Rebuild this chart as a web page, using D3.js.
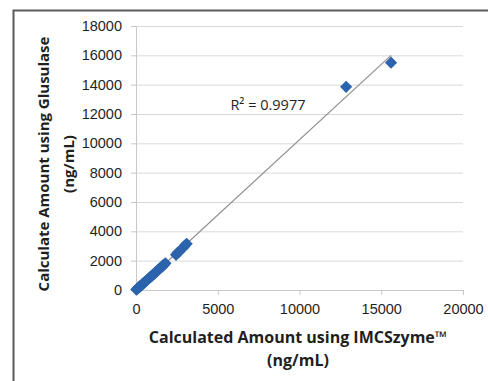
<!DOCTYPE html>
<html>
<head>
<meta charset="utf-8">
<script src="https://cdn.jsdelivr.net/npm/d3@7"></script>
<style>
  html, body { margin: 0; padding: 0; background: #fff; }
  svg { display: block; font-family: "Open Sans", "Liberation Sans", sans-serif; }
</style>
</head>
<body>
<div id="chart"></div>
<script>
// values (ng/mL)
const imcszyme = [20, 70, 120, 170, 230, 280, 340, 400, 460, 520, 580, 650, 710, 780, 850, 920, 990, 1060, 1130, 1210, 1280, 1350, 1430, 1500, 1580, 1650, 1720, 1800,
  2450, 2550, 2650, 2900, 3000, 3100, 12850, 15600];
const glusulase = [30, 60, 140, 160, 250, 270, 330, 420, 450, 540, 570, 660, 700, 800, 840, 930, 980, 1080, 1120, 1230, 1270, 1370, 1420, 1520, 1570, 1680, 1730, 1820,
  2400, 2550, 2620, 2900, 3050, 3150, 13850, 15500];
const xTicks = [0, 5000, 10000, 15000, 20000];
const yTicks = [0, 2000, 4000, 6000, 8000, 10000, 12000, 14000, 16000, 18000];
const r2Label = 'R² = 0.9977';

const W = 488, H = 381;
const margin = { top: 26, right: 25, bottom: 91, left: 136 };
const w = W - margin.left - margin.right;
const h = H - margin.top - margin.bottom;

const root = d3.select('#chart').append('svg').attr('width', W).attr('height', H);

// outer frame (only top/left edges visible in the reference)
root.append('path').attr('d', `M13.5,${H} V10.5 H${W}`)
  .attr('fill', 'none').attr('stroke', '#5a5a5a').attr('stroke-width', 2);

const svg = root.append('g').attr('transform', `translate(${margin.left},${margin.top})`);

const x = d3.scaleLinear().domain([0, 20000]).range([0, w]);
const y = d3.scaleLinear().domain([0, 18000]).range([h, 0]);

// gridlines
svg.append('g').attr('class', 'grid')
  .call(d3.axisLeft(y).tickValues(yTicks).tickSize(-w).tickFormat(() => ''))
  .call(g => g.select('.domain').remove())
  .selectAll('line').style('stroke', '#d9d9d9');

svg.append('g').attr('class', 'y-axis')
  .call(d3.axisLeft(y).tickValues(yTicks).tickSize(5).tickPadding(9).tickFormat(d3.format('d')))
  .call(g => g.select('.domain').style('stroke', '#c8c8c8'))
  .call(g => g.selectAll('line').style('stroke', '#c8c8c8'))
  .selectAll('text').style('font-size', '14.5px').style('fill', '#1f1f1f');

svg.append('g').attr('class', 'x-axis').attr('transform', `translate(0,${h})`)
  .call(d3.axisBottom(x).tickValues(xTicks).tickSize(5).tickPadding(9).tickFormat(d3.format('d')))
  .call(g => g.select('.domain').style('stroke', '#c8c8c8'))
  .call(g => g.selectAll('line').style('stroke', '#c8c8c8'))
  .selectAll('text').style('font-size', '14.5px').style('fill', '#1f1f1f');

// linear trendline through the data
const pts = imcszyme.map((v, i) => [v, glusulase[i]]);
const mx = d3.mean(imcszyme), my = d3.mean(glusulase);
const slope = d3.sum(pts, p => (p[0] - mx) * (p[1] - my)) / d3.sum(pts, p => (p[0] - mx) ** 2);
const icpt = my - slope * mx;
const [x0, x1] = d3.extent(imcszyme);
svg.append('line')
  .attr('x1', x(x0)).attr('y1', y(slope * x0 + icpt))
  .attr('x2', x(x1)).attr('y2', y(slope * x1 + icpt))
  .attr('stroke', '#8f8f8f').attr('stroke-width', 1.2);

svg.selectAll('.pt').data(pts).join('path').attr('class', 'pt')
  .attr('transform', d => `translate(${x(d[0])},${y(d[1])})`)
  .attr('d', d3.symbol(d3.symbolDiamond2, 95)())
  .attr('fill', '#2c63ad');

svg.append('text').attr('x', x(8070)).attr('y', y(12250))
  .attr('text-anchor', 'middle').style('font-size', '14.5px').style('fill', '#1f1f1f')
  .text(r2Label);

// axis titles
root.append('text').attr('x', 298).attr('y', 343).attr('text-anchor', 'middle')
  .style('font-size', '16px').style('font-weight', 'bold').style('fill', '#1f1f1f')
  .text('Calculated Amount using IMCSzyme™');
root.append('text').attr('x', 298).attr('y', 366).attr('text-anchor', 'middle')
  .style('font-size', '16px').style('font-weight', 'bold').style('fill', '#1f1f1f')
  .text('(ng/mL)');

root.append('text').attr('transform', 'translate(49,164) rotate(-90)').attr('text-anchor', 'middle')
  .style('font-size', '15px').style('font-weight', 'bold').style('fill', '#1f1f1f')
  .text('Calculate Amount using Glusulase');
root.append('text').attr('transform', 'translate(74,164) rotate(-90)').attr('text-anchor', 'middle')
  .style('font-size', '15px').style('font-weight', 'bold').style('fill', '#1f1f1f')
  .text('(ng/mL)');
</script>
</body>
</html>
